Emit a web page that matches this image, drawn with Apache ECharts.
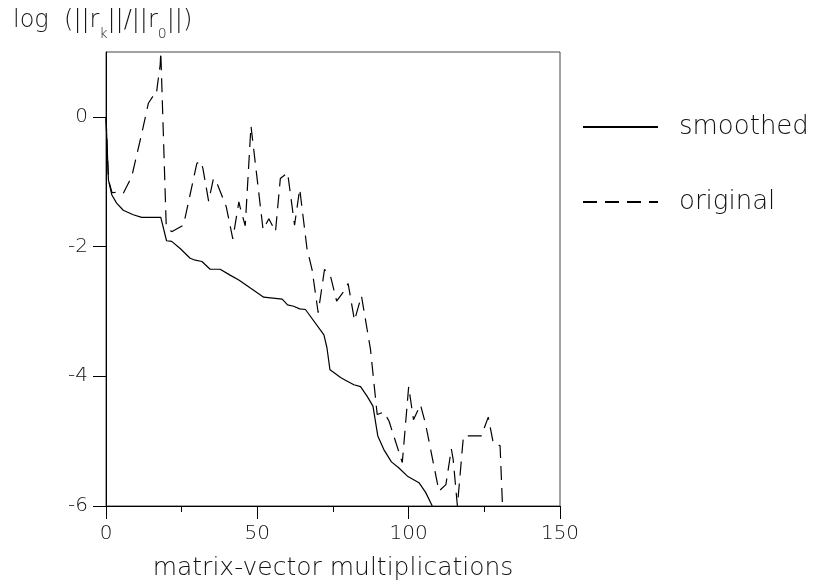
<!DOCTYPE html>
<html>
<head>
<meta charset="utf-8">
<script src="https://cdn.jsdelivr.net/npm/echarts@6/dist/echarts.min.js"></script>
<style>
  html, body { margin: 0; padding: 0; background: #fff; }
  #chart { width: 814px; height: 588px; }
</style>
</head>
<body>
<div id="chart"></div>
<script>
// Residual history of the iterative solver: log10(||r_k|| / ||r_0||)
const smoothedX = [0, 0.8, 1.9, 3.5, 5.7, 9, 11.8, 18.1, 20, 21.7, 24.5, 27.8, 29.5, 31.7, 34.4, 37.7,
  41, 44, 47.7, 52.1, 58.2, 60, 62, 64, 65.9, 72, 73, 74, 75.5, 77.5, 79.1, 81.9, 84.1, 86.3, 88.2,
  89.8, 91.8, 94.3, 96.7, 99.6, 103.4, 105.6, 107.8];
const smoothedY = [0, -0.97, -1.2, -1.33, -1.44, -1.51, -1.55, -1.55, -1.91, -1.92, -2.03, -2.18, -2.21,
  -2.23, -2.35, -2.35, -2.44, -2.52, -2.64, -2.78, -2.81, -2.9, -2.92, -2.96, -2.97, -3.36, -3.56,
  -3.9, -3.95, -4.02, -4.06, -4.13, -4.16, -4.31, -4.46, -4.92, -5.13, -5.32, -5.41, -5.54, -5.64,
  -5.79, -6.0];

const originalX = [0, 0.8, 2, 4.1, 5.7, 8.5, 11.8, 14, 15.7, 16.6, 17, 17.9, 18.1, 19.9, 21.7, 25.6, 30,
  31.1, 32, 33.9, 35.5, 36.9, 39.7, 41.9, 43.9, 44.4, 46, 47.9, 51.9, 53.8, 56, 57.6, 60, 62.3, 64,
  66.4, 68.1, 70.1, 72.2, 74.2, 76.2, 78.6, 80, 82.1, 84.4, 87.4, 89.6, 91.8, 93.5, 97.9, 100, 101.6,
  103.9, 105.6, 110, 112.3, 114.1, 114.7, 116.1, 118.1, 121.6, 124, 126.3, 128, 130.2, 131];
const originalY = [0, -0.97, -1.17, -1.16, -1.18, -0.92, -0.26, 0.21, 0.33, 0.33, 0.49, 0.8, 1.0, -1.69,
  -1.77, -1.67, -0.72, -0.68, -0.79, -1.3, -0.95, -1.05, -1.38, -1.88, -1.31, -1.41, -1.68, -0.14,
  -1.74, -1.57, -1.77, -0.95, -0.86, -1.67, -1.11, -2.03, -2.36, -3.02, -2.35, -2.46, -2.84, -2.69,
  -2.57, -3.14, -2.76, -3.59, -4.59, -4.55, -4.69, -5.33, -4.16, -4.67, -4.44, -4.74, -5.77, -5.67,
  -5.12, -5.28, -6.0, -4.92, -4.92, -4.92, -4.63, -5.04, -5.07, -6.0];

const xTicks = [0, 50, 100, 150];
const yTicks = [-6, -4, -2, 0];

const seriesNames = ['smoothed', 'original'];
const xTitle = 'matrix-vector multiplications';

const zip = (xs, ys) => xs.map((x, i) => [x, ys[i]]);

const FONT = "'DejaVu Sans', sans-serif";
const INK = '#111';

const chart = echarts.init(document.getElementById('chart'), null, { renderer: 'canvas' });

chart.setOption({
  animation: false,
  backgroundColor: '#fff',
  title: {
    left: 8,
    top: 4,
    text: '{a|log  (||r}{s|k}{a|||/||r}{s|0}{a|||)}',
    textStyle: {
      rich: {
        a: {
          fontFamily: FONT, fontWeight: 200, fontSize: 24, color: INK,
          lineHeight: 26, verticalAlign: 'top'
        },
        s: {
          fontFamily: FONT, fontWeight: 200, fontSize: 14, color: INK,
          lineHeight: 14, verticalAlign: 'top', padding: [18, 0, 0, 0]
        }
      }
    }
  },
  legend: {
    orient: 'vertical',
    left: 577,
    top: 109,
    itemWidth: 75,
    itemHeight: 14,
    itemGap: 49,
    data: seriesNames,
    itemStyle: { opacity: 0 },
    textStyle: {
      fontFamily: FONT, fontWeight: 200, fontSize: 26, color: INK,
      padding: [0, 0, 0, 16]
    }
  },
  grid: {
    left: 106, right: 254, top: 52, bottom: 82,
    show: true, borderColor: '#444', borderWidth: 1, backgroundColor: 'transparent'
  },
  xAxis: {
    type: 'value',
    min: 0, max: 150, interval: 50,
    name: xTitle,
    nameLocation: 'middle',
    nameGap: 50,
    nameTextStyle: { fontFamily: FONT, fontWeight: 200, fontSize: 25, color: INK },
    axisLine: { show: true, onZero: false, lineStyle: { color: '#000', width: 1 } },
    axisTick: { show: true, inside: false, length: 13, lineStyle: { color: '#000' }, customValues: xTicks },
    minorTick: { show: true, splitNumber: 2, length: 6, lineStyle: { color: '#000' } },
    axisLabel: {
      margin: 18, fontFamily: FONT, fontWeight: 200, fontSize: 20, color: INK,
      customValues: xTicks
    },
    splitLine: { show: false }
  },
  yAxis: {
    type: 'value',
    min: -6, max: 1, interval: 2,
    axisLine: { show: true, onZero: false, lineStyle: { color: '#000', width: 1 } },
    axisTick: { show: true, inside: false, length: 13, lineStyle: { color: '#000' }, customValues: yTicks },
    axisLabel: {
      margin: 18, fontFamily: FONT, fontWeight: 200, fontSize: 20, color: INK,
      customValues: yTicks
    },
    splitLine: { show: false }
  },
  series: [
    {
      name: seriesNames[0],
      type: 'line',
      data: zip(smoothedX, smoothedY),
      symbol: 'none',
      clip: true,
      lineStyle: { color: '#000', width: 1.2, type: 'solid' },
      itemStyle: { color: '#000' }
    },
    {
      name: seriesNames[1],
      type: 'line',
      data: zip(originalX, originalY),
      symbol: 'none',
      clip: true,
      lineStyle: { color: '#000', width: 1.2, type: [14, 8] },
      itemStyle: { color: '#000' }
    }
  ]
});
</script>
</body>
</html>
